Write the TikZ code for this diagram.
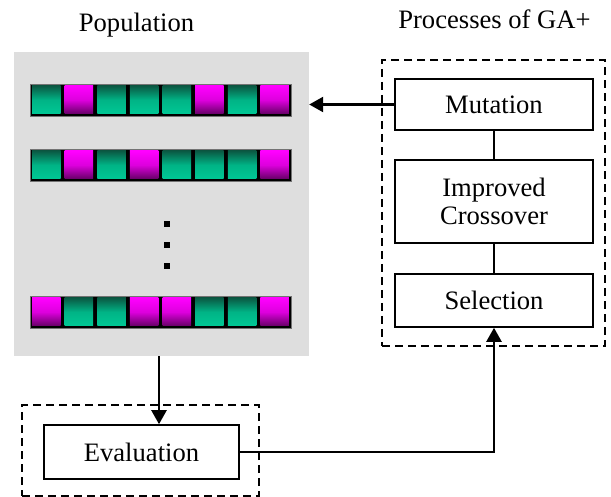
\documentclass[tikz,border=0pt]{standalone}
\usepackage{fontspec}
\setmainfont{Liberation Serif}
\usetikzlibrary{arrows.meta}
\definecolor{panelgray}{HTML}{DEDEDE}
\definecolor{gtop}{HTML}{0A5A44}
\definecolor{gmid}{HTML}{00B486}
\definecolor{gbot}{HTML}{00C895}
\definecolor{mtop}{HTML}{FF00FF}
\definecolor{mmid}{HTML}{DD00DD}
\definecolor{mbot}{HTML}{660066}
\begin{document}
\begin{tikzpicture}[x=1pt,y=-1pt,
  txt/.style={font=\fontsize{26.6}{28}\selectfont},
  box/.style={txt,draw,line width=1.6pt,minimum width=198pt,inner sep=0pt,align=center},
  dashbox/.style={draw,line width=2pt,dash pattern=on 8pt off 5pt,inner sep=0pt},
  panel/.style={fill=panelgray,inner sep=0pt,minimum width=295pt,minimum height=304pt},
  chrom/.style={fill=black,draw=black!55,line width=0.8pt,inner sep=0pt,minimum width=261pt,minimum height=32pt},
  cellG/.style={inner sep=0pt,minimum width=28.6pt,minimum height=28pt,top color=gtop,bottom color=gbot,middle color=gmid},
  cellM/.style={inner sep=0pt,minimum width=28.6pt,minimum height=28pt,top color=mtop,bottom color=mbot,middle color=mmid},
  dotsq/.style={fill=black,inner sep=0pt,minimum size=6pt},
  arrowline/.style={line width=2.4pt,-{Triangle[length=14pt,width=15pt]}},
  link/.style={line width=1.6pt}]
\useasboundingbox (0,0) rectangle (611,497);
% titles
\node[txt,anchor=base] (poptitle) at (136.5,32) {Population};
\node[txt,anchor=base] (proctitle) at (494.5,28.5) {Processes of GA+};
% population panel
\node[panel] (pop) at (161.5,204) {};
\foreach \r/\yy/\pat in {1/100/{G,M,G,G,G,M,G,M},2/165/{G,M,G,M,G,G,G,M},3/312/{M,G,G,M,M,G,G,M}}{
  \node[chrom] (chrom\r) at (160.5,\yy) {};
  \foreach \c [count=\i from 0] in \pat {
    \node[cell\c] (cell\r\i) at ({30+32.625*\i+16.3125},\yy) {};
  }
}
\node[dotsq] (dot1) at (167,224) {};
\node[dotsq] (dot2) at (167,245) {};
\node[dotsq] (dot3) at (167,266) {};
% processes
\node[dashbox,minimum width=223pt,minimum height=286pt] (procbox) at (493.5,203) {};
\node[box,minimum height=51pt] (mut) at (494,104.5) {Mutation};
\node[box,minimum height=83pt] (cross) at (494,201.5) {Improved\\Crossover};
\node[box,minimum height=53pt] (sel) at (494,300.5) {Selection};
\draw[link] (mut) -- (cross);
\draw[link] (cross) -- (sel);
% evaluation
\node[dashbox,minimum width=237pt,minimum height=91pt] (evalbox) at (140.5,450.5) {};
\node[box,minimum width=195pt,minimum height=54pt] (eval) at (141.5,452) {Evaluation};
% connectors
\draw[arrowline] (mut.west) -- (mut.west -| pop.east);
\draw[arrowline] ([xshift=-2.5pt]pop.south) -- ([xshift=-2.5pt]pop.south |- eval.north);
\draw[arrowline] (eval.east) -| (sel.south);
\end{tikzpicture}
\end{document}
